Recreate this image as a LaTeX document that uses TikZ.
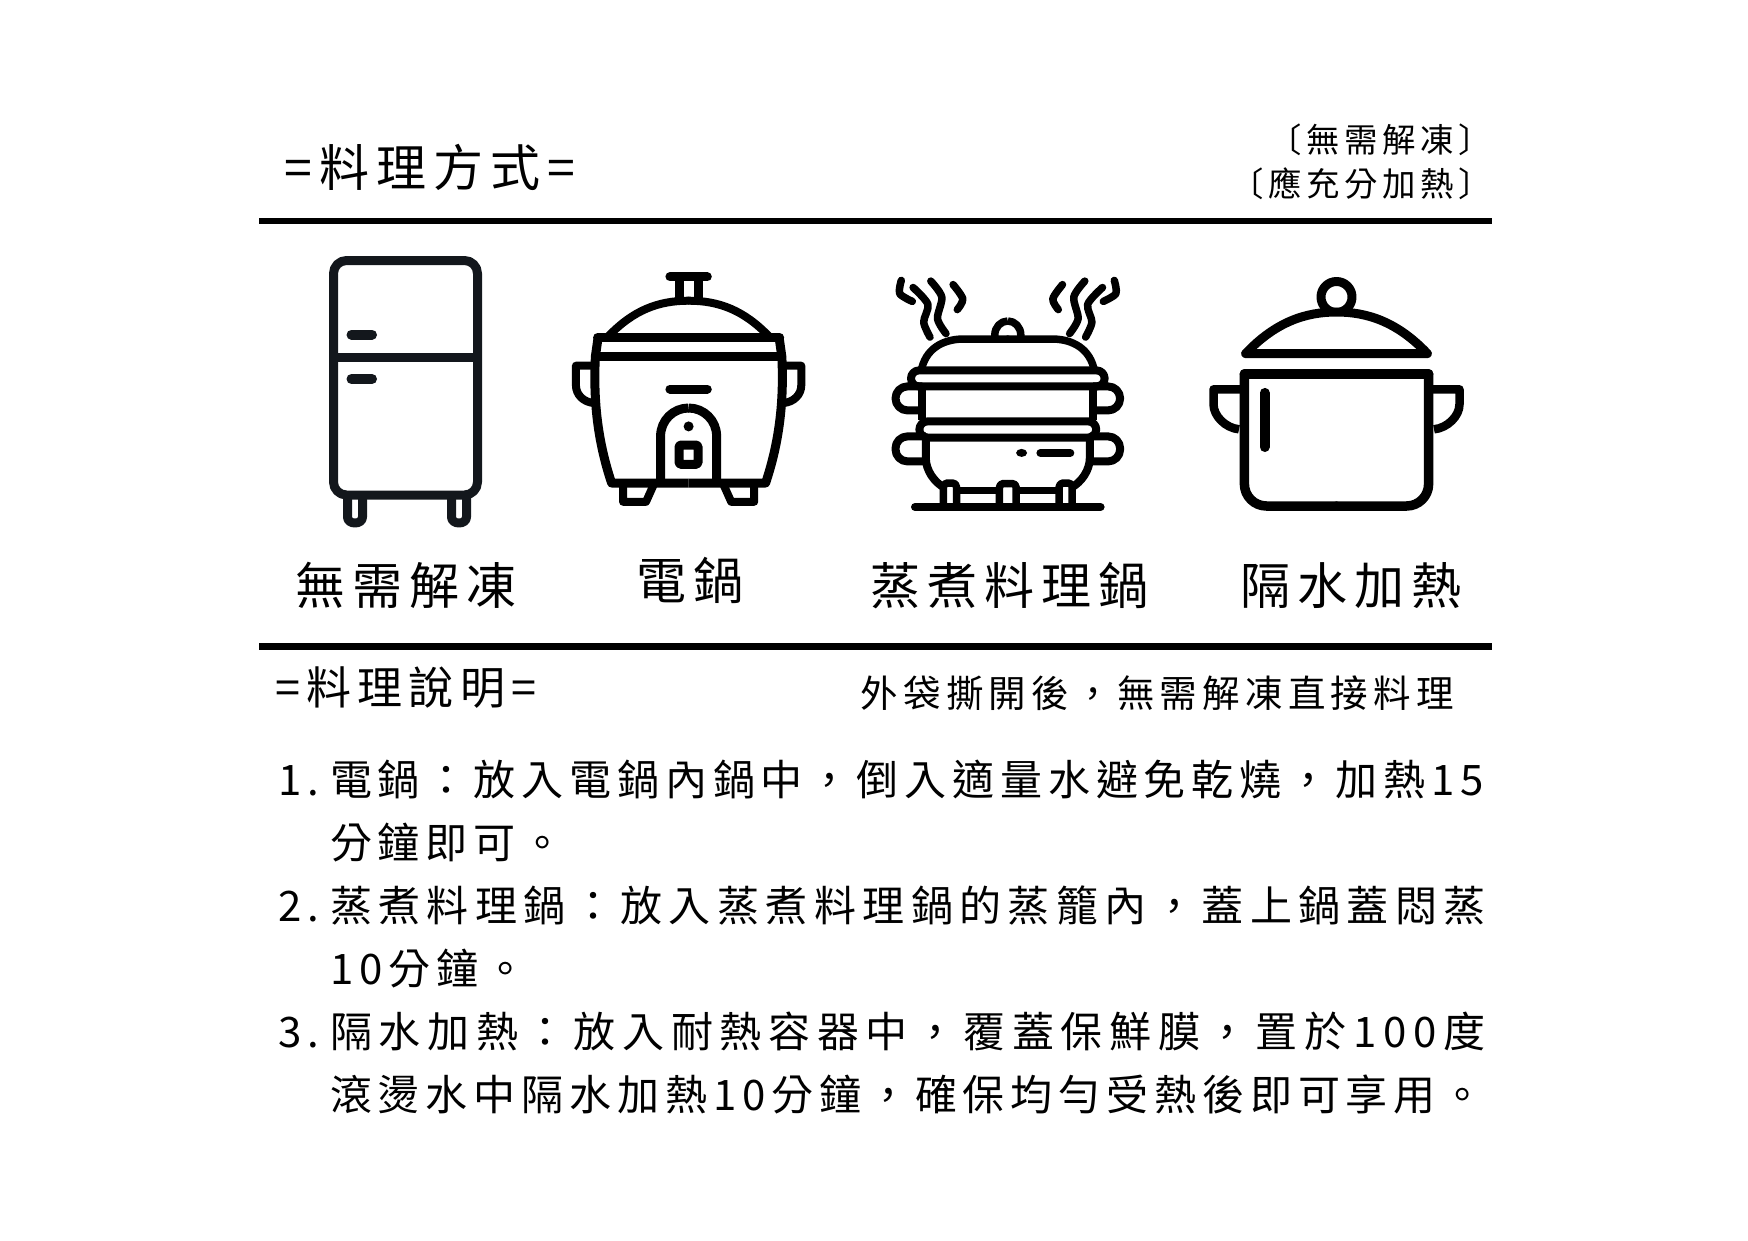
\documentclass[tikz,border=0pt]{standalone}
\usepackage{fontspec}
\usetikzlibrary{positioning}
\newfontfamily\cjk[LetterSpace=14]{Noto Sans CJK TC}
\newfontfamily\cjkwide[LetterSpace=15.3]{Noto Sans CJK TC}
\newfontfamily\cjkwider[LetterSpace=16]{Noto Sans CJK TC}
\definecolor{fridgeink}{HTML}{13171C}
\tikzset{
  txt/.style={inner sep=0pt, outer sep=0pt, anchor=base west, font=\cjk\fontsize{#1}{#1}\selectfont},
  icon/.style={line width=9pt, line cap=round, line join=round},
  rulebar/.style={line width=6.4pt}
}

\begin{document}
\begin{tikzpicture}[x=1pt, y=-1pt]
  \useasboundingbox (0,0) rectangle (1748,1240);

  % Rules
  \coordinate (R1_Left) at (259,221);
  \coordinate (R1_Right) at (1492,221);
  \coordinate (R2_Left) at (259,646.5);
  \coordinate (R2_Right) at (1492,646.5);
  \draw [rulebar] (R1_Left) -- (R1_Right);
  \draw [rulebar] (R2_Left) -- (R2_Right);

  % Headings
  \node [txt=50] (wayTitle) at (284.5,186) {=料理方式=};
  \node [txt=33.4, anchor=base east] (noteA) at (1492,152) {〔無需解凍〕};
  \node [txt=33.4, anchor=base east] (noteB) at (1492,196) {〔應充分加熱〕};

  % Fridge
  \begin{scope}[draw=fridgeink, fill=fridgeink]
    \draw [icon, rounded corners=13pt] (333.5,260.5) rectangle (477.5,495);
    \draw [icon, line cap=butt] (333.5,357) -- (477.5,357);
    \draw [icon, line width=10pt] (351.5,334.6) -- (372,334.6);
    \draw [icon, line width=10pt] (351.5,379) -- (372,379);
    \foreach \x in {347.5,451.5} {
      \draw [icon] (\x,497) -- (\x,517) .. controls (\x,525) and (\x+15,525) .. (\x+15,517) -- (\x+15,497);
    }
  \end{scope}

  % Rice cooker
  \foreach \m in {-1,1} {
    \begin{scope}[shift={(688.6,0)}, xscale=\m]
      \draw [icon, line width=8pt] (0,300.7) .. controls (-30,300.7) and (-55,310) .. (-80,336);
      \draw [icon] (-91,337.5) -- (0,337.5);
      \draw [icon, line cap=butt] (-90.5,337.5) -- (-93.2,356.4) .. controls (-96,410) and (-88,450) .. (-77,483) -- (0,483);
      \draw [icon, line cap=butt] (-93,356.4) -- (0,356.4);
      \draw [icon, line width=8pt, line cap=butt] (-93,365.7) -- (-112.7,365.7) -- (-112.7,385) .. controls (-112.7,395) and (-105,402) .. (-95,403);
      \draw [icon, line cap=butt] (-9.6,281) -- (-9.6,298);
      \draw [icon, line cap=butt] (-28,483) -- (-28,436) .. controls (-28,420.5) and (-15.4,408) .. (0,408);
      \draw [icon, line width=8pt] (-65.6,483) -- (-65.6,501.8) -- (-42.6,501.8) -- (-34.6,484);
    \end{scope}
  }
  \draw [icon] (669.9,276.8) -- (707.3,276.8);
  \draw [icon] (669.9,389) -- (707.3,389);
  \fill (688.6,426.4) circle [radius=5pt];
  \draw [icon, rounded corners=1.5pt] (679,445) rectangle (698,464.3);

  % Steamer
  \foreach \m in {-1,1} {
    \begin{scope}[shift={(1007.8,0)}, xscale=\m]
      % Steam
      \draw [icon, line width=7.5pt] plot [smooth] coordinates {(-106.5,280.4) (-108.1,293.6) (-95.5,301.4)};
      \draw [icon, line width=7.5pt] plot [smooth] coordinates {(-94.7,287.5) (-79.9,304.3) (-84.1,322.1) (-77.8,337.1)};
      \draw [icon, line width=7.5pt] plot [smooth] coordinates {(-77,281.1) (-66,297.1) (-70.3,318.6) (-61.8,333.6)};
      \draw [icon, line width=7.5pt] plot [smooth] coordinates {(-54.7,284.6) (-45,298.9) (-50.5,309.6)};
      % Pot
      \draw [icon, line width=7.5pt] (-86,368) .. controls (-80,345) and (-60,339) .. (-44,339) -- (0,339);
      \draw [icon, line width=7.5pt, line cap=butt] (-13,338) -- (-13,335) .. controls (-13,327) and (-7,321) .. (0,321);
      \draw [icon, line width=8pt, line cap=butt] (-85.4,386.4) -- (-85.4,420);
      \draw [icon, line width=8pt, line cap=butt, rounded corners=12pt] (-85.4,386.4) -- (-112.3,386.4) -- (-112.3,410.4) -- (-85.4,410.4);
      \draw [icon, line width=8pt, line cap=butt, rounded corners=12pt] (-82,436.4) -- (-112.3,436.4) -- (-112.3,461.4) -- (-82,461.4);
      \draw [icon, line width=8pt, line cap=butt] (-82,437) -- (-82,457.9) .. controls (-82,470) and (-74,482) .. (-63,488);
      % Burner
      \draw [icon, line width=7.5pt, rounded corners=4pt] (-64.4,505) -- (-64.4,483) -- (-51.3,483) -- (-51.3,505);
      \draw [icon, line width=7.5pt, line cap=butt, rounded corners=4pt] (-8.4,505) -- (-8.4,483.5) -- (0,483.5);
      \draw [icon, line width=7pt, line cap=butt] (-51.3,490.7) -- (-8.4,490.7);
    \end{scope}
  }
  \draw [icon, line width=8pt, rounded corners=8pt] (-96.8+1007.8,370.4) rectangle (96.8+1007.8,386.4);
  \draw [icon, line width=8pt, rounded corners=8pt] (-88.4+1007.8,421.4) rectangle (88.4+1007.8,437.5);
  \draw [icon, line width=8pt] (915,507) -- (1100.6,507);
  \fill (1021.6,452.9) ellipse [x radius=5.5pt, y radius=4pt];
  \draw [icon, line width=8pt] (1040.4,452.9) -- (1070.3,452.9);

  % Stock pot
  \draw [icon] (1336.5,297) circle [radius=15.5pt];
  \draw [icon, fill=white] (1245.6,353.6) .. controls (1275.5,322) and (1305.5,312) .. (1336.5,312) .. controls (1367.5,312) and (1397.5,322) .. (1427.4,353.6) -- cycle;
  \foreach \m in {-1,1} {
    \begin{scope}[shift={(1336.5,0)}, xscale=\m]
      \draw [icon, line width=9.5pt] (-92.1,373.9) -- (0,373.9);
      \draw [icon, line width=9.5pt, rounded corners=22pt] (-92.1,373.9) -- (-92.1,506) -- (0,506);
      \draw [icon, line width=8.5pt, line cap=butt] (-92.1,389.3) -- (-123,389.3) -- (-123,404.3) .. controls (-123,416) and (-111,428) .. (-97.5,429.3);
    \end{scope}
  }
  \draw [icon, line width=10pt] (1264.6,392.9) -- (1264.6,447);

  % Icon labels
  \node [txt=50] (labelFridge) at (295.5,604) {無需解凍};
  \node [txt=50] (labelCooker) at (636,599) {電鍋};
  \node [txt=50] (labelSteamer) at (870,604) {蒸煮料理鍋};
  \node [txt=50] (labelPot) at (1240,604) {隔水加熱};

  % Instructions
  \node [txt=45] (howTitle) at (275,704) {=料理說明=};
  \node [txt=37.5] (howNote) at (860.5,707) {外袋撕開後，無需解凍直接料理};

  \node [txt=42] (numA) at (278,795) {1.};
  \node [txt=42] (lineA) at (330,795) {電鍋：放入電鍋內鍋中，倒入適量水避免乾燒，加熱15};
  \node [txt=42] (lineB) at (330,858) {分鐘即可。};
  \node [txt=42] (numB) at (278,921) {2.};
  \node [txt=42] (lineC) at (330,921) {\cjkwide 蒸煮料理鍋：放入蒸煮料理鍋的蒸籠內，蓋上鍋蓋悶蒸};
  \node [txt=42] (lineD) at (330,984) {10分鐘。};
  \node [txt=42] (numC) at (278,1047) {3.};
  \node [txt=42] (lineE) at (330,1047) {\cjkwider 隔水加熱：放入耐熱容器中，覆蓋保鮮膜，置於100度};
  \node [txt=42] (lineF) at (330,1110) {滾燙水中隔水加熱10分鐘，確保均勻受熱後即可享用。};
\end{tikzpicture}
\end{document}
